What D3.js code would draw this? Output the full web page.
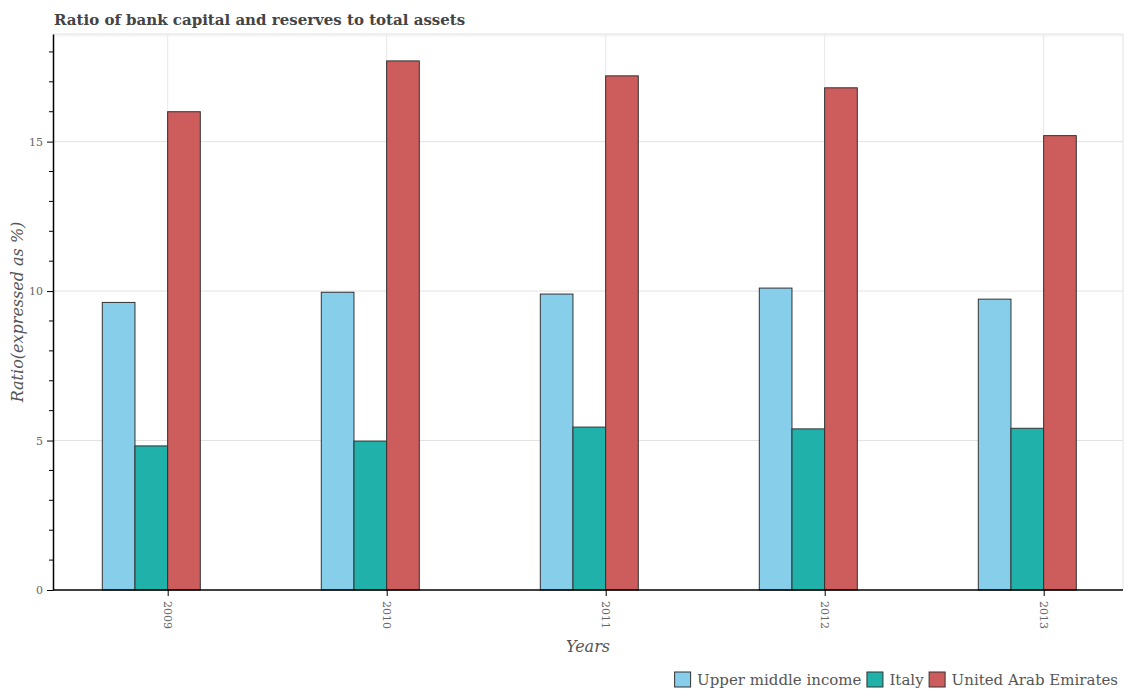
<!DOCTYPE html>
<html>
<head>
<meta charset="utf-8">
<script src="https://cdn.jsdelivr.net/npm/d3@7"></script>
<style>
  body { margin: 0; background: #fff; }
  svg { display: block; }
</style>
</head>
<body>
<svg id="chart" width="1128" height="700"></svg>
<script>
const years = ["2009", "2010", "2011", "2012", "2013"];
const seriesNames = ["Upper middle income", "Italy", "United Arab Emirates"];
const upperMiddleIncome = [9.62, 9.96, 9.90, 10.10, 9.73];
const italy = [4.82, 4.98, 5.45, 5.39, 5.41];
const uae = [16.0, 17.7, 17.2, 16.8, 15.2];
const seriesColors = ["#87CEEB", "#20B2AA", "#CD5C5C"];
const yTickValues = [0, 5, 10, 15];

(function() {
const seriesValues = [upperMiddleIncome, italy, uae];
const data = years.map((yr, i) => ({
  year: yr,
  values: seriesNames.map((s, j) => ({ key: s, value: seriesValues[j][i] }))
}));

const svg = d3.select("#chart");
const pLeft = 53, pRight = 1123, pTop = 34, pBottom = 590;

const y = d3.scaleLinear().domain([0, 18.6]).range([pBottom, pTop]);
const x0 = d3.scaleBand().domain(years).range([41.8, 1136.8]).paddingInner(0).paddingOuter(0);
const groupWidth = 98;
const x1 = d3.scaleBand().domain(seriesNames).range([0, groupWidth]);
const xTick = d3.scalePoint().domain(years).range([167.7, 1043.7]);
const color = d3.scaleOrdinal().domain(seriesNames).range(seriesColors);

// Title
svg.append("text")
  .attr("x", 54).attr("y", 25)
  .attr("font-family", "DejaVu Serif")
  .attr("font-weight", "bold")
  .attr("font-size", 15)
  .attr("fill", "#444")
  .text("Ratio of bank capital and reserves to total assets");

// Frame (top and right borders)
svg.append("line").attr("x1", pLeft).attr("x2", pRight).attr("y1", pTop + 1.5).attr("y2", pTop + 1.5)
  .attr("stroke", "#f4f4f4").attr("stroke-width", 2);
svg.append("line").attr("x1", pLeft).attr("x2", pRight).attr("y1", pTop).attr("y2", pTop)
  .attr("stroke", "#e3e3e3").attr("stroke-width", 1);
svg.append("line").attr("x1", pRight).attr("x2", pRight).attr("y1", pTop).attr("y2", pBottom)
  .attr("stroke", "#e3e3e3").attr("stroke-width", 1);

// Grid lines
svg.append("g").selectAll("line").data(yTickValues.filter(d => d > 0)).join("line")
  .attr("x1", pLeft).attr("x2", pRight)
  .attr("y1", d => y(d)).attr("y2", d => y(d))
  .attr("stroke", "#e2e2e2").attr("stroke-width", 1);
svg.append("g").selectAll("line").data(years).join("line")
  .attr("x1", d => xTick(d)).attr("x2", d => xTick(d))
  .attr("y1", pTop).attr("y2", pBottom)
  .attr("stroke", "#e8e8e8").attr("stroke-width", 1);

// Bars
const groups = svg.append("g").selectAll("g").data(data).join("g")
  .attr("transform", d => `translate(${x0(d.year) + x0.bandwidth() / 2 - groupWidth / 2},0)`);
groups.selectAll("rect").data(d => d.values).join("rect")
  .attr("x", d => x1(d.key))
  .attr("y", d => y(d.value))
  .attr("width", x1.bandwidth())
  .attr("height", d => y(0) - y(d.value))
  .attr("fill", d => color(d.key))
  .attr("stroke", "#333")
  .attr("stroke-width", 1);

// Y axis minor ticks
const minor = d3.range(0, 19).filter(d => d % 5 !== 0);
svg.append("g").selectAll("line").data(minor).join("line")
  .attr("x1", pLeft - 4).attr("x2", pLeft)
  .attr("y1", d => y(d)).attr("y2", d => y(d))
  .attr("stroke", "#000").attr("stroke-width", 1);

// Y axis
const yAxis = svg.append("g")
  .attr("transform", `translate(${pLeft},0)`)
  .call(d3.axisLeft(y).tickValues(yTickValues).tickSize(6).tickSizeOuter(0).tickPadding(4));
yAxis.select(".domain").attr("stroke", "#000").attr("stroke-width", 1.5);
yAxis.selectAll("text").attr("font-family", "DejaVu Serif").attr("font-size", 11).attr("fill", "#666");

// X axis
const xAxis = svg.append("g")
  .attr("transform", `translate(0,${pBottom})`)
  .call(d3.axisBottom(xTick).tickSize(6).tickSizeOuter(0));
xAxis.select(".domain").remove();
xAxis.append("line").attr("x1", pLeft).attr("x2", pRight).attr("y1", 0).attr("y2", 0)
  .attr("stroke", "#000").attr("stroke-width", 1.5);
xAxis.selectAll(".tick text")
  .attr("font-family", "DejaVu Serif").attr("font-size", 11).attr("fill", "#666")
  .attr("transform", "rotate(90)")
  .attr("text-anchor", "start")
  .attr("x", 11).attr("y", 0).attr("dy", "0.35em");

// Axis titles
svg.append("text")
  .attr("transform", `translate(23,${(pTop + pBottom) / 2}) rotate(-90)`)
  .attr("text-anchor", "middle")
  .attr("font-family", "DejaVu Serif").attr("font-style", "italic")
  .attr("font-size", 16).attr("fill", "#555")
  .text("Ratio(expressed as %)");
svg.append("text")
  .attr("x", (pLeft + pRight) / 2).attr("y", 652)
  .attr("text-anchor", "middle")
  .attr("font-family", "DejaVu Serif").attr("font-style", "italic")
  .attr("font-size", 16).attr("fill", "#555")
  .text("Years");

// Legend (right aligned)
const legend = svg.append("g");
const items = legend.selectAll("g").data(seriesNames).join("g");
items.append("rect").attr("width", 16).attr("height", 15).attr("y", 672)
  .attr("fill", d => color(d)).attr("stroke", "#333").attr("stroke-width", 1);
items.append("text").attr("y", 680).attr("dy", "0.35em")
  .attr("font-family", "DejaVu Serif").attr("font-size", 15).attr("fill", "#555")
  .text(d => d);
const widths = [];
items.each(function() { widths.push(d3.select(this).select("text").node().getComputedTextLength()); });
const total = widths.reduce((a, w) => a + 16 + 6.5 + w, 0) + 5.5 * (widths.length - 1);
let cx = 1118 - total;
items.each(function(d, i) {
  const g = d3.select(this);
  g.select("rect").attr("x", cx);
  g.select("text").attr("x", cx + 22.5);
  cx += 16 + 6.5 + widths[i] + 5.5;
});
})();
</script>
</body>
</html>
